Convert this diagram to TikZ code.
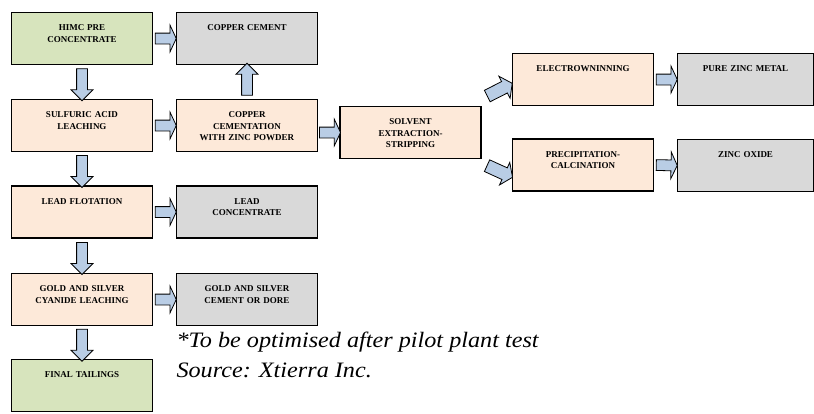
\documentclass[tikz,border=0pt]{standalone}
\usepackage{fontspec}
\setmainfont{Liberation Serif}
\usetikzlibrary{shapes.arrows}
\definecolor{feedgreen}{HTML}{D7E4BD}
\definecolor{stagepeach}{HTML}{FDE9D9}
\definecolor{productgrey}{HTML}{D9D9D9}
\definecolor{flowblue}{HTML}{B9CDE5}
\begin{document}
\begin{tikzpicture}[x=1pt,y=-1pt,
    stage/.style={draw, line width=1.2pt, text width=133pt, align=center,
        inner xsep=4pt, inner ysep=11pt, text height=7pt, text depth=23pt,
        font=\bfseries\fontsize{9}{11.5}\selectfont},
    feed/.style={stage, fill=feedgreen},
    process/.style={stage, fill=stagepeach},
    product/.style={stage, fill=productgrey},
    flow/.style={single arrow, draw, fill=flowblue, line width=0.8pt,
        inner xsep=0pt, inner ysep=5pt, sloped, single arrow head indent=0pt},
    flowh/.style={flow, minimum height=21pt,
        single arrow head extend=8pt, single arrow tip angle=130},
    flowv/.style={flow, minimum height=32pt,
        single arrow head extend=5.5pt, single arrow tip angle=90},
    flowd/.style={flow, minimum height=28pt, inner ysep=6pt,
        single arrow head extend=6pt, single arrow tip angle=110}]
    \useasboundingbox (0,0) rectangle (814,413);
    \node[feed] (himc) at (82,38.5) {HIMC PRE\\CONCENTRATE};
    \node[process] (leach) at (82,125.5) {SULFURIC ACID\\LEACHING};
    \node[process] (flot) at (82,212) {LEAD FLOTATION};
    \node[process] (cyan) at (82,299.5) {GOLD AND SILVER\\CYANIDE LEACHING};
    \node[feed] (tail) at (82,385.5) {FINAL TAILINGS};
    \node[product] (cucem) at (247,38.5) {COPPER CEMENT};
    \node[process] (cement) at (247,125.5) {COPPER\\CEMENTATION\\WITH ZINC POWDER};
    \node[product] (leadcon) at (247,212) {LEAD\\CONCENTRATE};
    \node[product] (dore) at (247,299.5) {GOLD AND SILVER\\CEMENT OR DORE};
    \node[process] (sx) at (410.5,132.5) {SOLVENT\\EXTRACTION-\\STRIPPING};
    \node[process] (ew) at (583,79.5) {ELECTROWNINNING};
    \node[process] (precip) at (583,165) {PRECIPITATION-\\CALCINATION};
    \node[product, text width=128pt] (znmetal) at (745.5,79.5) {PURE ZINC METAL};
    \node[product, text width=128pt] (znoxide) at (745.5,165.5) {ZINC OXIDE};
    \node[anchor=base west, align=left,
        font=\itshape\fontsize{22}{30}\selectfont\addfontfeature{FakeStretch=1.1}]
        (note) at (173,377) {*To be optimised after pilot plant test\\Source: Xtierra Inc.};
    \path (himc.east) -- node[flowh]{} (cucem.west);
    \path (himc.south) -- node[flowv]{} (leach.north);
    \path (leach.east) -- node[flowh]{} (cement.west);
    \path (cement.north) -- node[flowv]{} (cucem.south);
    \path (leach.south) -- node[flowv]{} (flot.north);
    \path (flot.east) -- node[flowh]{} (leadcon.west);
    \path (flot.south) -- node[flowv]{} (cyan.north);
    \path (cyan.east) -- node[flowh]{} (dore.west);
    \path (cyan.south) -- node[flowv]{} (tail.north);
    \path (cement.east |- sx.west) -- node[flowh]{} (sx.west);
    \path ([shift={(2,-8)}]sx.north east) -- node[flowd]{} ([shift={(0,4)}]ew.west);
    \path ([shift={(2,5)}]sx.south east) -- node[flowd]{} ([shift={(0,12)}]precip.west);
    \path (ew.east) -- node[flowh]{} (znmetal.west);
    \path (precip.east) -- node[flowh]{} (znoxide.west);
\end{tikzpicture}
\end{document}
